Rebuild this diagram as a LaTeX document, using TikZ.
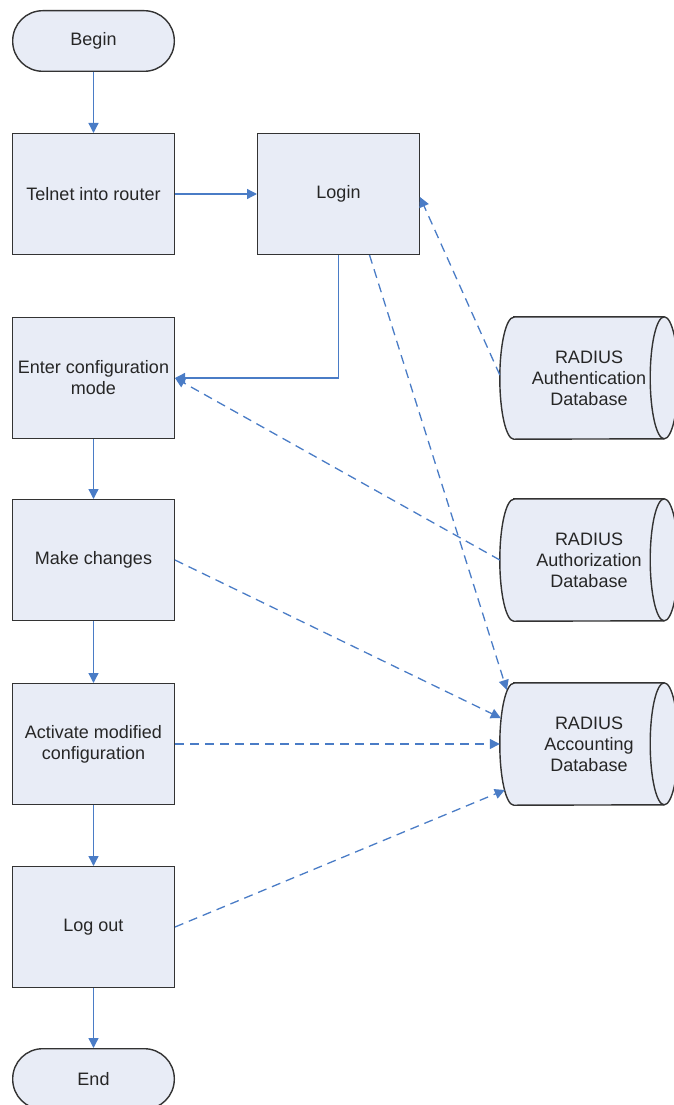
\documentclass[tikz,border=0pt]{standalone}
\usepackage{fontspec}
\setmainfont{Liberation Sans}
\usepackage{tikz}
\usetikzlibrary{shapes, arrows, positioning, calc, backgrounds, arrows.meta}

\definecolor{boxfill}{HTML}{E8ECF6}
\definecolor{boxline}{HTML}{333333}
\definecolor{flowblue}{HTML}{4A7CC6}

\begin{document}
\begin{tikzpicture}[
            x=1pt, y=-1pt,
            every node/.style={font=\fontsize{18}{21}\selectfont, align=center, text=black!85},
            stepbox/.style={
                rectangle, draw=boxline, fill=boxfill, line width=1.4pt,
                minimum width=161.6pt, minimum height=120.6pt, inner sep=2pt
            },
            terminal/.style={
                rectangle, rounded corners=30pt, draw=boxline, fill=boxfill,
                line width=1.4pt, minimum width=161.6pt, minimum height=60.6pt
            },
            database/.style={
                rectangle, minimum width=150pt, minimum height=122pt, inner sep=0pt
            },
            dbshape/.style={draw=boxline, fill=boxfill, line width=1.4pt},
            flow/.style={draw=flowblue, line width=1.3pt, -{Triangle[length=10pt,width=10pt]}},
            link/.style={flow, dash pattern=on 9pt off 6pt}
        ]
            \useasboundingbox (0,0) rectangle (674,1105);

            % main flow
            \node[terminal] (begin) at (93.5,41) {Begin};
            \node[stepbox, below=61pt of begin] (telnet) {Telnet into router};
            \node[stepbox, right=82pt of telnet] (login) {Login};
            \node[stepbox, below=62pt of telnet] (config) {Enter configuration\\mode};
            \node[stepbox, below=60pt of config] (changes) {Make changes};
            \node[stepbox, below=62pt of changes] (activate) {Activate modified\\configuration};
            \node[stepbox, below=61pt of activate] (logout) {Log out};
            \node[terminal, below=60pt of logout] (end) {End};

            % RADIUS databases
            \node[database] (authen) at (589,378) {RADIUS\\Authentication\\Database};
            \node[database] (author) at (589,560) {RADIUS\\Authorization\\Database};
            \node[database] (acct) at (589,744) {RADIUS\\Accounting\\Database};

            \begin{pgfonlayer}{background}
            \foreach \db in {authen, author, acct} {
                \path[dbshape] (\db.north west) -- (\db.north east)
                    arc[start angle=90, end angle=-90, x radius=14pt, y radius=61pt]
                    -- (\db.south west)
                    arc[start angle=-90, end angle=-270, x radius=14pt, y radius=61pt] -- cycle;
                \draw[boxline, line width=1.4pt] (\db.north east)
                    arc[start angle=90, end angle=270, x radius=14pt, y radius=61pt];
            }
            \end{pgfonlayer}

            \draw[flow] (begin) -- (telnet);
            \draw[flow] (telnet) -- (login);
            \draw[flow] (login.south) |- (config.east);
            \draw[flow] (config) -- (changes);
            \draw[flow] (changes) -- (activate);
            \draw[flow] (activate) -- (logout);
            \draw[flow] (logout) -- (end);

            \draw[link] ([xshift=-14pt,yshift=3pt]authen.west) -- ([yshift=-3pt]login.east);
            \draw[link] ([xshift=-14pt]author.west) -- (config.east);
            \draw[link] ([xshift=31pt]login.south) -- ([xshift=-7pt,yshift=54pt]acct.west);
            \draw[link] (changes.east) -- ([xshift=-13pt,yshift=26pt]acct.west);
            \draw[link] (activate.east) -- ([xshift=-14pt]acct.west);
            \draw[link] (logout.east) -- ([xshift=-9pt,yshift=-46pt]acct.west);
        %     \node[below=4pt of acct] {...};
        \end{tikzpicture}
\end{document}
